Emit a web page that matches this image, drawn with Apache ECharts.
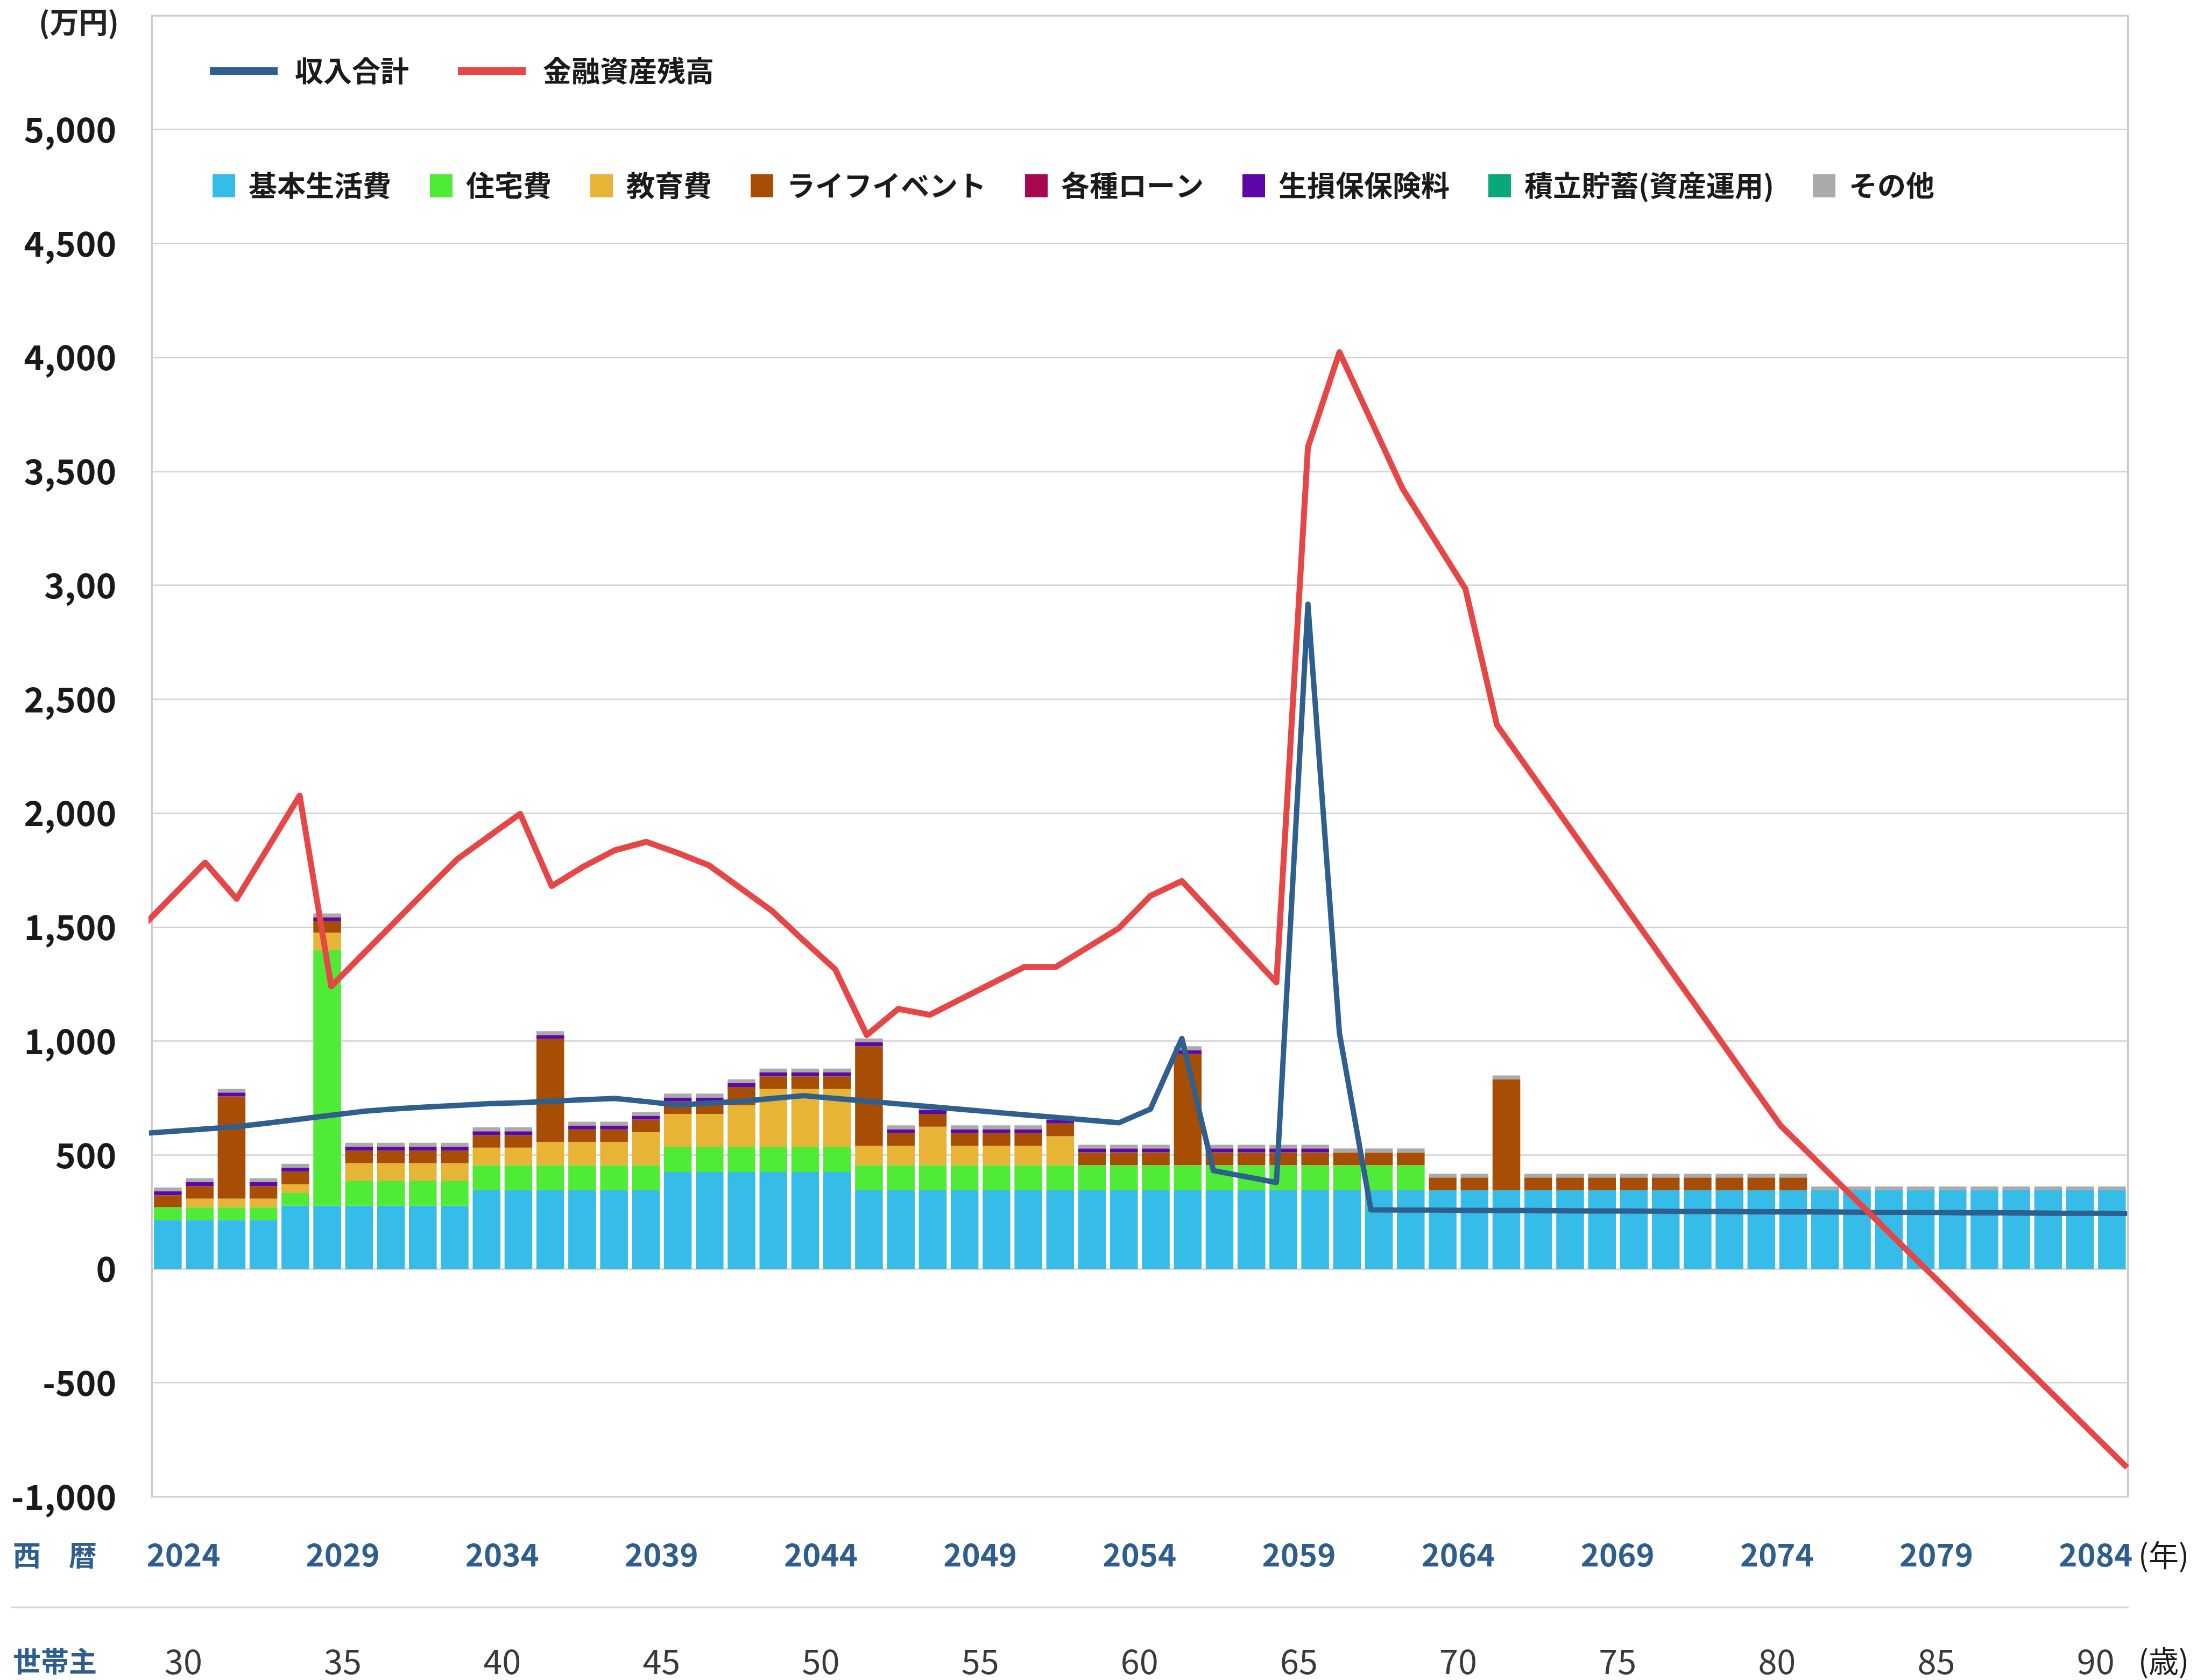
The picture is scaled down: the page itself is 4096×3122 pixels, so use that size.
<!DOCTYPE html>
<html><head><meta charset="utf-8">
<script src="https://cdn.jsdelivr.net/npm/echarts@6/dist/echarts.min.js"></script>
<style>html,body{margin:0;padding:0;background:#fff;}#chart{width:4096px;height:3122px;}</style>
</head><body><div id="chart"></div>
<script>
// ---- categories ----
const years = ['2024','2025','2026','2027','2028','2029','2030','2031','2032','2033',
  '2034','2035','2036','2037','2038','2039','2040','2041','2042','2043',
  '2044','2045','2046','2047','2048','2049','2050','2051','2052','2053',
  '2054','2055','2056','2057','2058','2059','2060','2061','2062','2063',
  '2064','2065','2066','2067','2068','2069','2070','2071','2072','2073',
  '2074','2075','2076','2077','2078','2079','2080','2081','2082','2083',
  '2084','2085'];
const ages = ['30','31','32','33','34','35','36','37','38','39',
  '40','41','42','43','44','45','46','47','48','49',
  '50','51','52','53','54','55','56','57','58','59',
  '60','61','62','63','64','65','66','67','68','69',
  '70','71','72','73','74','75','76','77','78','79',
  '80','81','82','83','84','85','86','87','88','89',
  '90','91'];

// ---- stacked cost bars (万円) ----
const basicLiving = [214,214,214,214,277,277,277,277,277,277,
  345,345,345,345,345,345,425,425,425,425,
  425,425,345,345,345,345,345,345,345,345,
  345,345,345,345,345,345,345,345,345,345,
  345,345,345,345,345,345,345,345,345,345,
  345,345,345,345,345,345,345,345,345,345,
  345,345];
const housing = [56,56,56,56,56,1122,110,110,110,110,
  110,110,110,110,110,110,111,111,111,111,
  111,111,110,110,110,110,110,110,110,110,
  110,110,110,110,110,110,110,110,110,110,
  0,0,0,0,0,0,0,0,0,0,
  0,0,0,0,0,0,0,0,0,0,
  0,0];
const education = [0,38,38,38,38,77,77,77,77,77,
  77,77,102,102,102,145,144,144,182,253,
  253,253,85,85,169,85,85,85,127,0,
  0,0,0,0,0,0,0,0,0,0,
  0,0,0,0,0,0,0,0,0,0,
  0,0,0,0,0,0,0,0,0,0,
  0,0];
const lifeEvent = [53,55,449,55,56,50,55,55,55,55,
  55,55,452,55,55,55,55,55,80,56,
  56,56,437,56,56,56,56,56,56,56,
  56,56,488,56,56,56,56,56,56,56,
  56,56,487,56,56,56,56,56,56,56,
  56,56,0,0,0,0,0,0,0,0,
  0,0];
const loans = [0,0,0,0,0,0,0,0,0,0,
  0,0,0,0,0,0,0,0,0,0,
  0,0,0,0,0,0,0,0,0,0,
  0,0,0,0,0,0,0,0,0,0,
  0,0,0,0,0,0,0,0,0,0,
  0,0,0,0,0,0,0,0,0,0,
  0,0];
const insurance = [18,17,17,17,17,17,17,17,17,17,
  17,17,17,17,17,17,17,17,17,17,
  17,17,17,17,17,17,17,17,17,17,
  17,17,17,17,17,17,17,0,0,0,
  0,0,0,0,0,0,0,0,0,0,
  0,0,0,0,0,0,0,0,0,0,
  0,0];
const savings = [0,0,0,0,0,0,0,0,0,0,
  0,0,0,0,0,0,0,0,0,0,
  0,0,0,0,0,0,0,0,0,0,
  0,0,0,0,0,0,0,0,0,0,
  0,0,0,0,0,0,0,0,0,0,
  0,0,0,0,0,0,0,0,0,0,
  0,0];
const others = [16,18,16,18,17,17,17,17,17,17,
  17,17,17,17,17,17,17,17,17,17,
  17,17,17,17,17,17,17,17,17,17,
  17,17,17,17,17,17,17,17,17,17,
  17,17,17,17,17,17,17,17,17,17,
  17,17,17,17,17,17,17,17,17,17,
  17,17];

// ---- lines (万円), plotted by year ----
const lineYears = [2023,2024,2025,2026,2027,2028,2029,2030,2031,2032,
  2033,2034,2035,2036,2037,2038,2039,2040,2041,2042,
  2043,2044,2045,2046,2047,2048,2049,2050,2051,2052,
  2053,2054,2055,2056,2057,2058,2059,2060,2061,2062,
  2063,2064,2065,2066,2067,2068,2069,2070,2071,2072,
  2073,2074,2075,2076,2077,2078,2079,2080,2081,2082,
  2083,2084,2085,2086];
const incomeTotal = [594,604,614,624,640,657,674,691,702,710,
  717,725,729,736,742,748,734,719,727,735,
  748,760,748,736,724,712,700,688,676,665,
  653,641,701,1011,431,405,379,2917,1034,259,
  258,258,257,256,256,255,254,254,253,252,
  252,251,250,250,249,248,248,247,246,246,
  245,244,244,243];
const assetBalance = [1501,1642,1783,1624,1850,2077,1240,1380,1519,1659,
  1798,1898,1997,1680,1765,1837,1874,1825,1770,1670,
  1570,1440,1314,1026,1141,1115,1185,1255,1325,1325,
  1410,1495,1637,1702,1554,1405,1257,3606,4023,3724,
  3425,3205,2984,2386,2191,1996,1800,1605,1410,1215,
  1020,824,629,493,356,220,83,-53,-190,-326,
  -463,-599,-736,-872];

const FONT = '"Noto Sans CJK JP", "Noto Sans", sans-serif';

const barDefs = [
  ['基本生活費', basicLiving, '#36BCE8'],
  ['住宅費', housing, '#50EB36'],
  ['教育費', education, '#E8B436'],
  ['ライフイベント', lifeEvent, '#A84E04'],
  ['各種ローン', loans, '#A8084F'],
  ['生損保保険料', insurance, '#5C08A8'],
  ['積立貯蓄(資産運用)', savings, '#08A87A'],
  ['その他', others, '#AAAAAA']
];

const series = barDefs.map(function (d, i) {
  const s = {
    name: d[0], type: 'bar', stack: 'cost', data: d[1],
    xAxisIndex: 0, yAxisIndex: 0,
    itemStyle: { color: d[2] },
    emphasis: { disabled: true }
  };
  if (i === 0) s.barCategoryGap = '13%';
  return s;
});
series.push({
  name: '収入合計', type: 'line', xAxisIndex: 2, yAxisIndex: 0, z: 3,
  data: lineYears.map(function (y, i) { return [y, incomeTotal[i]]; }),
  symbol: 'none', lineStyle: { color: '#2E5F8F', width: 10, join: 'round' },
  itemStyle: { color: '#2E5F8F' }
});
series.push({
  name: '金融資産残高', type: 'line', xAxisIndex: 2, yAxisIndex: 0, z: 4,
  data: lineYears.map(function (y, i) { return [y, assetBalance[i]]; }),
  symbol: 'none', lineStyle: { color: '#E64646', width: 11, join: 'round' },
  itemStyle: { color: '#E64646' }
});

function fmtY(v) {
  if (v === 5500) return '';
  if (v === 3000) return '3,00';
  const s = String(Math.abs(v)).replace(/\B(?=(\d{3})+(?!\d))/g, ',');
  return (v < 0 ? '-' : '') + s;
}

const chart = echarts.init(document.getElementById('chart'), null, { renderer: 'canvas' });
chart.setOption({
  animation: false,
  backgroundColor: '#ffffff',
  textStyle: { fontFamily: FONT },
  grid: {
    left: 282.3, right: 141.5, top: 29, bottom: 340.6,
    containLabel: false, outerBoundsMode: 'none',
    show: true, borderColor: '#c8c8c8', borderWidth: 3, backgroundColor: 'transparent'
  },
  legend: [
    {
      data: ['収入合計', '金融資産残高'],
      left: 390, top: 105.5, padding: 0, orient: 'horizontal',
      icon: 'rect', itemWidth: 126, itemHeight: 14, itemGap: 91,
      textStyle: { fontFamily: FONT, fontSize: 53, fontWeight: 'bold', color: '#1a1a1a', padding: [0, 0, 0, 27] },
      selectedMode: false
    },
    {
      data: barDefs.map(function (d) { return d[0]; }),
      left: 395, top: 318.5, padding: 0, orient: 'horizontal',
      icon: 'rect', itemWidth: 42, itemHeight: 43, itemGap: 72,
      textStyle: { fontFamily: FONT, fontSize: 53, fontWeight: 'bold', color: '#1a1a1a', padding: [0, 0, 0, 20] },
      selectedMode: false
    }
  ],
  xAxis: [
    {
      type: 'category', data: years, position: 'bottom', boundaryGap: true,
      axisLine: { show: false }, axisTick: { show: false }, splitLine: { show: false },
      axisLabel: {
        interval: 4, margin: 79,
        formatter: function (v) { return '{y|' + v + '}'; },
        rich: { y: { fontFamily: FONT, fontSize: 58, fontWeight: 'bold', color: '#2E5E8F', lineHeight: 58, padding: [0, 0, 0, 58] } }
      }
    },
    {
      type: 'category', data: ages, position: 'bottom', boundaryGap: true,
      axisLine: { show: false }, axisTick: { show: false }, splitLine: { show: false },
      axisLabel: {
        interval: 4, margin: 274,
        formatter: function (v) { return '{a|' + v + '}'; },
        rich: { a: { fontFamily: FONT, fontSize: 63, color: '#3a3a3a', lineHeight: 63, padding: [0, 0, 0, 58] } }
      }
    },
    {
      type: 'value', min: 2023.31, max: 2086.023, show: false, position: 'top',
      splitLine: { show: false }
    }
  ],
  yAxis: {
    type: 'value', min: -1000, max: 5500, interval: 500,
    axisLine: { show: false }, axisTick: { show: false },
    splitLine: { show: true, lineStyle: { color: '#d0d0d0', width: 2.5 } },
    axisLabel: { margin: 66, fontFamily: FONT, fontSize: 64, fontWeight: 'bold', color: '#1a1a1a', formatter: fmtY }
  },
  graphic: [
    { type: 'text', left: 72, top: 14, style: { text: '(万円)', font: 'bold 54px ' + FONT, fill: '#222222' } },
    { type: 'text', x: 24, y: 2890, style: { text: '西　暦', font: 'bold 52px ' + FONT, fill: '#2E5E8F', verticalAlign: 'middle' } },
    { type: 'text', x: 24, y: 3087, style: { text: '世帯主', font: 'bold 52px ' + FONT, fill: '#2E5E8F', verticalAlign: 'middle' } },
    { type: 'text', x: 3974, y: 2890, style: { text: '(年)', font: '56px ' + FONT, fill: '#1a1a1a', verticalAlign: 'middle' } },
    { type: 'text', x: 3974, y: 3087, style: { text: '(歳)', font: '56px ' + FONT, fill: '#1a1a1a', verticalAlign: 'middle' } },
    { type: 'line', shape: { x1: 20, y1: 2987, x2: 3956, y2: 2987 }, style: { stroke: '#d4d4d4', lineWidth: 3 } }
  ],
  series: series
});
</script>
</body></html>
